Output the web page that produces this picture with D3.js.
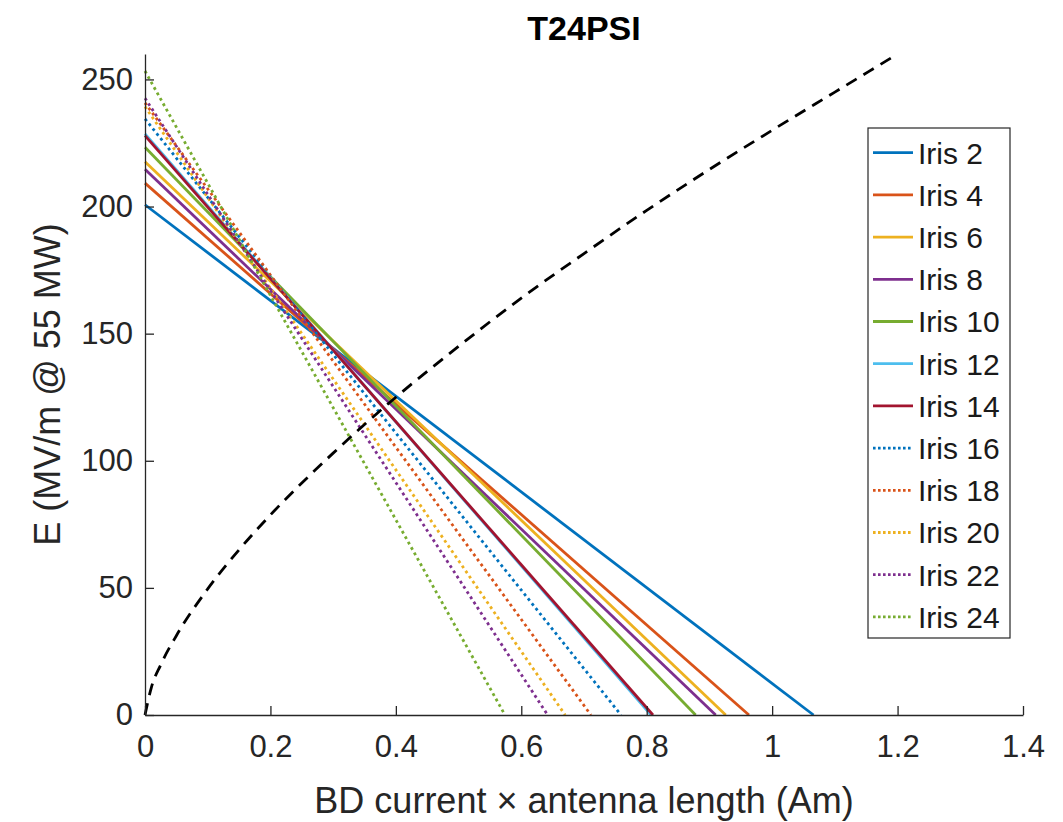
<!DOCTYPE html>
<html>
<head>
<meta charset="utf-8">
<script src="https://cdn.jsdelivr.net/npm/d3@7"></script>
<style>
  body { margin: 0; background: #fff; }
  text { font-family: "Liberation Sans", Arial, sans-serif; }
</style>
</head>
<body>
<div id="chart"></div>
<script>
// series: each iris line runs from (0, E0) down to (x0, 0)
const irisNames = ["Iris 2", "Iris 4", "Iris 6", "Iris 8", "Iris 10", "Iris 12", "Iris 14",
    "Iris 16", "Iris 18", "Iris 20", "Iris 22", "Iris 24"];
const eAtZero = [200.7, 209.2, 217.6, 214.7, 223.3, 228.6, 227.9, 234.5, 240.8, 239.3, 242.6, 253.3];
const xAtZero = [1.066, 0.963, 0.926, 0.910, 0.878, 0.807, 0.810, 0.759, 0.711, 0.670, 0.642, 0.574];

// dashed black curve
const curveX = [0, 0.01, 0.025, 0.05, 0.1, 0.15, 0.2, 0.3, 0.4, 0.5, 0.6, 0.7, 0.8, 0.9, 1.0, 1.1, 1.2];
const curveE = [0, 10.7, 19.7, 31.2, 49.6, 65.0, 78.7, 103, 125, 145, 164, 181.5, 198.5, 214.6, 230, 245, 260];

const xTicks = [0, 0.2, 0.4, 0.6, 0.8, 1, 1.2, 1.4];
const yTicks = [0, 50, 100, 150, 200, 250];

const colors = ["#0072BD", "#D95319", "#EDB120", "#7E2F8E", "#77AC30", "#4DBEEE", "#A2142F"];

const width = 1063, height = 822;
const margin = { left: 145, right: 40, top: 54, bottom: 107 };

const svg = d3.select("#chart")
    .append("svg")
    .attr("width", width)
    .attr("height", height);

const x = d3.scaleLinear().domain([0, 1.4]).range([margin.left, 1023]);
const y = d3.scaleLinear().domain([0, 260]).range([715, margin.top]);

const series = irisNames.map((name, i) => ({
    name: name,
    color: colors[i % 7],
    dotted: i >= 7,
    points: [[0, eAtZero[i]], [xAtZero[i], 0]]
}));

const line = d3.line().x(d => x(d[0])).y(d => y(d[1]));

// iris lines
svg.append("g")
    .selectAll("path")
    .data(series)
    .join("path")
    .attr("fill", "none")
    .attr("stroke", d => d.color)
    .attr("stroke-width", 2.8)
    .attr("stroke-dasharray", d => d.dotted ? "2.8,3.4" : null)
    .attr("d", d => line(d.points));

// dashed curve
svg.append("path")
    .datum(curveX.map((v, i) => [v, curveE[i]]))
    .attr("fill", "none")
    .attr("stroke", "#000")
    .attr("stroke-width", 2.8)
    .attr("stroke-dasharray", "12,8")
    .attr("d", d3.line().curve(d3.curveMonotoneX).x(d => x(d[0])).y(d => y(d[1])));

// axes (ticks pointing inward, no box)
const xAxis = svg.append("g")
    .attr("transform", `translate(0,${y(0)})`)
    .call(d3.axisBottom(x).tickValues(xTicks).tickFormat(d3.format("~g"))
        .tickSizeInner(-9).tickSizeOuter(0).tickPadding(20));
const yAxis = svg.append("g")
    .attr("transform", `translate(${x(0)},0)`)
    .call(d3.axisLeft(y).tickValues(yTicks).tickSizeInner(-9).tickSizeOuter(0).tickPadding(22));

[xAxis, yAxis].forEach(a => {
    a.select(".domain").attr("stroke", "#262626").attr("stroke-width", 1.3);
    a.selectAll(".tick line").attr("stroke", "#262626").attr("stroke-width", 1.3);
    a.selectAll(".tick text")
        .attr("fill", "#262626")
        .attr("font-size", 31)
        .attr("font-family", "'Liberation Sans', Arial, sans-serif");
});
xAxis.selectAll(".tick text").attr("dy", "0.71em");
yAxis.selectAll(".tick text").attr("x", -12);

// labels
svg.append("text")
    .attr("x", (x(0) + x(1.4)) / 2)
    .attr("y", 813)
    .attr("text-anchor", "middle")
    .attr("font-size", 36)
    .attr("fill", "#262626")
    .text("BD current \u00d7 antenna length (Am)");

svg.append("text")
    .attr("transform", `translate(60,${(y(0) + y(260)) / 2}) rotate(-90)`)
    .attr("text-anchor", "middle")
    .attr("font-size", 36)
    .attr("fill", "#262626")
    .text("E (MV/m @ 55 MW)");

svg.append("text")
    .attr("x", (x(0) + x(1.4)) / 2)
    .attr("y", 40)
    .attr("text-anchor", "middle")
    .attr("font-size", 34)
    .attr("font-weight", "bold")
    .attr("fill", "#000")
    .text("T24PSI");

// legend
const legend = svg.append("g");
legend.append("rect")
    .attr("x", 868)
    .attr("y", 128)
    .attr("width", 142)
    .attr("height", 510)
    .attr("fill", "#fff")
    .attr("stroke", "#262626")
    .attr("stroke-width", 1.2);

const item = legend.selectAll("g.item")
    .data(series)
    .join("g")
    .attr("class", "item")
    .attr("transform", (d, i) => `translate(873,${152.7 + i * 42.2})`);

item.append("line")
    .attr("x1", 0)
    .attr("x2", 40)
    .attr("stroke", d => d.color)
    .attr("stroke-width", 2.8)
    .attr("stroke-dasharray", d => d.dotted ? "2.6,2.4" : null);

item.append("text")
    .attr("x", 45)
    .attr("dy", "0.36em")
    .attr("font-size", 30)
    .attr("fill", "#1a1a1a")
    .text(d => d.name);
</script>
</body>
</html>
